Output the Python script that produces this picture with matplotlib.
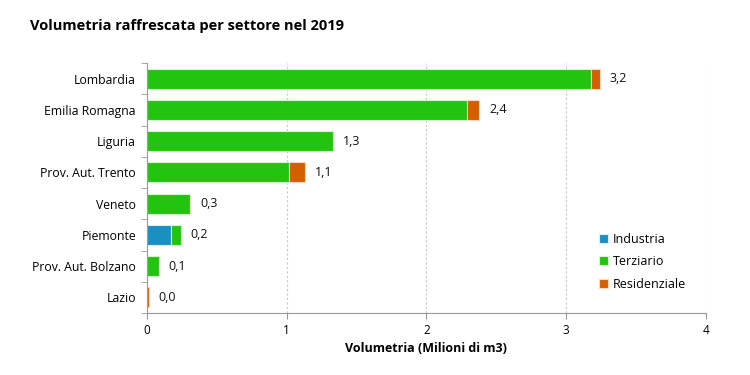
import matplotlib.pyplot as plt
import numpy as np

plt.rcParams['font.family'] = ['Open Sans', 'DejaVu Sans']

regioni = ['Lombardia', 'Emilia Romagna', 'Liguria', 'Prov. Aut. Trento',
           'Veneto', 'Piemonte', 'Prov. Aut. Bolzano', 'Lazio']
industria = [0.0, 0.0, 0.0, 0.0, 0.0, 0.17, 0.0, 0.0]
terziario = [3.18, 2.29, 1.33, 1.02, 0.31, 0.07, 0.086, 0.0]
residenziale = [0.06, 0.09, 0.0, 0.11, 0.0, 0.0, 0.0, 0.012]
etichette = ['3,2', '2,4', '1,3', '1,1', '0,3', '0,2', '0,1', '0,0']

col_ind = '#1a8fc2'
col_ter = '#22c40f'
col_res = '#d35f00'

fig = plt.figure(figsize=(7.5, 3.75), dpi=100)
ax = fig.add_axes([0.196, 0.165, 0.745, 0.667])

y = np.arange(len(regioni))
ind = np.array(industria)
ter = np.array(terziario)
res = np.array(residenziale)
h = 0.64
ax.barh(y, ind, h, color=col_ind, edgecolor='#d8eef8', linewidth=0.8, label='Industria')
ax.barh(y, ter, h, left=ind, color=col_ter, edgecolor='#d5f5d0', linewidth=0.8, label='Terziario')
ax.barh(y, res, h, left=ind + ter, color=col_res, edgecolor='#f5d8c0', linewidth=0.8, label='Residenziale')

tot = ind + ter + res
for yi, t, lab in zip(y, tot, etichette):
    ax.text(t + 0.07, yi, lab, va='center', ha='left', fontsize=9, color='#111111')

ax.set_xlim(0, 4)
ax.set_ylim(len(regioni) - 0.5, -0.5)
ax.set_xticks([0, 1, 2, 3, 4])
ax.set_xticklabels(['0', '1', '2', '3', '4'], fontsize=8.5)
ax.set_yticks(y)
ax.set_yticklabels(regioni, fontsize=8.8)
ax.set_yticks(np.arange(len(regioni) + 1) - 0.5, minor=True)
ax.tick_params(axis='y', which='major', length=0, pad=8)
ax.tick_params(axis='y', which='minor', length=4, color='#999999')
ax.tick_params(axis='x', length=4, color='#999999')

ax.grid(axis='x', linestyle=(0, (2, 2)), color='#c8c8c8', linewidth=0.8)
ax.set_axisbelow(True)
for s in ['top', 'right']:
    ax.spines[s].set_visible(False)
ax.spines['left'].set_color('#999999')
ax.spines['bottom'].set_color('#999999')

ax.set_xlabel('Volumetria (Milioni di m3)', fontsize=9, fontweight='bold', labelpad=4)

leg = ax.legend(loc='lower right', bbox_to_anchor=(0.985, 0.045), frameon=False, fontsize=9,
                handlelength=0.7, handleheight=0.7, handletextpad=0.4, labelspacing=0.75)

fig.text(0.04, 0.93, 'Volumetria raffrescata per settore nel 2019', fontsize=10.5,
         fontweight='bold', va='center')

plt.savefig('out.png', dpi=100)
